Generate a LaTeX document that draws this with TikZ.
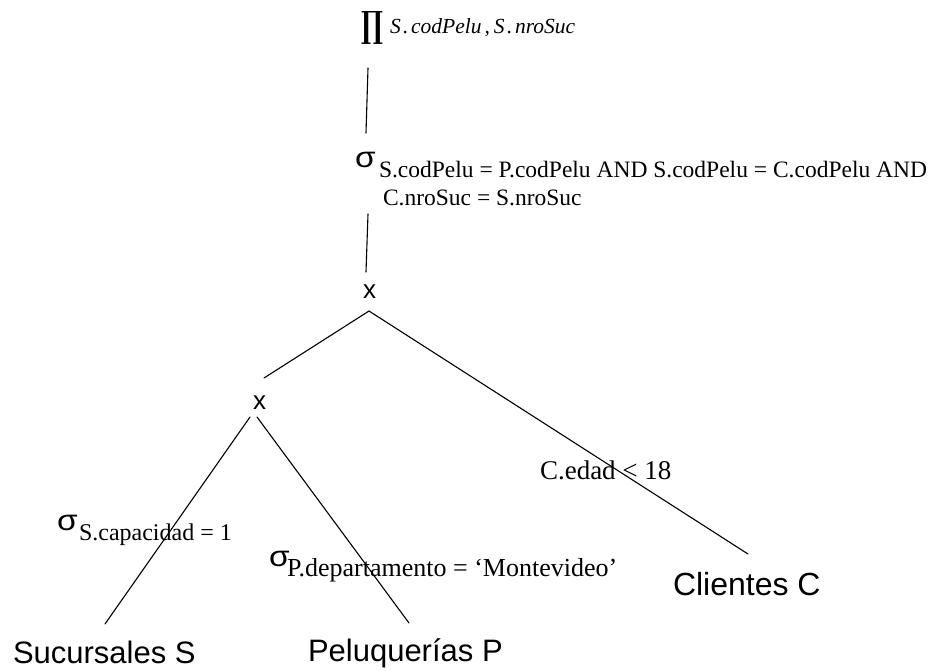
\documentclass[tikz,border=0pt]{standalone}
\usepackage{fontspec}
\setmainfont{Liberation Serif}
\newfontfamily\sansf{Liberation Sans}
\newfontfamily\opfont{DejaVu Serif}
\usepackage{graphicx}

\tikzset{
  lbl/.style={inner sep=0pt, outer sep=0pt, anchor=base west},
  relname/.style={lbl, font=\sansf\fontsize{31}{31}\selectfont},
  cond/.style={lbl, font=\fontsize{23.5}{28}\selectfont},
  sigma/.style={lbl, font=\sansf\fontsize{29}{29}\selectfont},
  prodsym/.style={lbl, font=\bfseries},
  edge/.style={line width=1.1pt, line cap=round}
}
\newcommand{\sig}{\scalebox{1.15}[1]{σ}}

\begin{document}
\begin{tikzpicture}[x=1pt, y=-1pt]
  \useasboundingbox (0,0) rectangle (929,670);

  % projection at the root
  \node[prodsym] (prod) at (361,37) {\resizebox{22pt}{26pt}{\opfont\bfseries ∏}};
  \node[lbl, font=\itshape\fontsize{21.5}{26}\selectfont] (projattr) at (390,33)
    {S\kern2.5pt.\kern2.5pt codPelu\kern3pt,\kern4pt S\kern2.5pt.\kern2.5pt nroSuc};

  % selection with the join conditions
  \node[sigma] (sel) at (355,167) {\sig};
  \node[cond] (selc1) at (379,177) {S.codPelu = P.codPelu AND S.codPelu = C.codPelu AND};
  \node[cond] (selc2) at (383,205) {C.nroSuc = S.nroSuc};

  % cartesian products
  \node[inner sep=0pt, anchor=base, font=\sansf\fontsize{26}{26}\selectfont] (x1) at (369.5,298) {x};
  \node[inner sep=0pt, anchor=base, font=\sansf\fontsize{26}{26}\selectfont] (x2) at (259.5,409) {x};

  % selections on the leaves
  \node[sigma] (selS) at (57,530) {\sig};
  \node[cond, font=\fontsize{24}{28}\selectfont] (selSc) at (79,540) {S.capacidad = 1};
  \node[sigma] (selP) at (269,566) {\sig};
  \node[cond, font=\fontsize{26}{30}\selectfont] (selPc) at (287,576) {P.departamento = ‘Montevideo’};
  \node[cond, font=\fontsize{27}{30}\selectfont] (selC) at (540,479) {C.edad < 18};

  % base relations
  \node[relname] (suc) at (13,663) {Sucursales S};
  \node[relname] (pel) at (308,661) {Peluquerías P};
  \node[relname, font=\sansf\fontsize{32}{32}\selectfont] (cli) at (673,595) {Clientes C};

  % edge end points
  \coordinate (a1) at (368,68);
  \coordinate (a2) at (366,133);
  \coordinate (b1) at (368,214);
  \coordinate (b2) at (366,272);
  \coordinate (c0) at (369,311);
  \coordinate (c1) at (264,378);
  \coordinate (c2) at (748,554);
  \coordinate (d0l) at (250,417);
  \coordinate (d0r) at (257,417);
  \coordinate (d1) at (105,624);
  \coordinate (d2) at (409,623);

  \draw[edge] (a1) -- (a2);
  \draw[edge] (b1) -- (b2);
  \draw[edge] (c0) -- (c1);
  \draw[edge] (c0) -- (c2);
  \draw[edge] (d0l) -- (d1);
  \draw[edge] (d0r) -- (d2);
\end{tikzpicture}
\end{document}
